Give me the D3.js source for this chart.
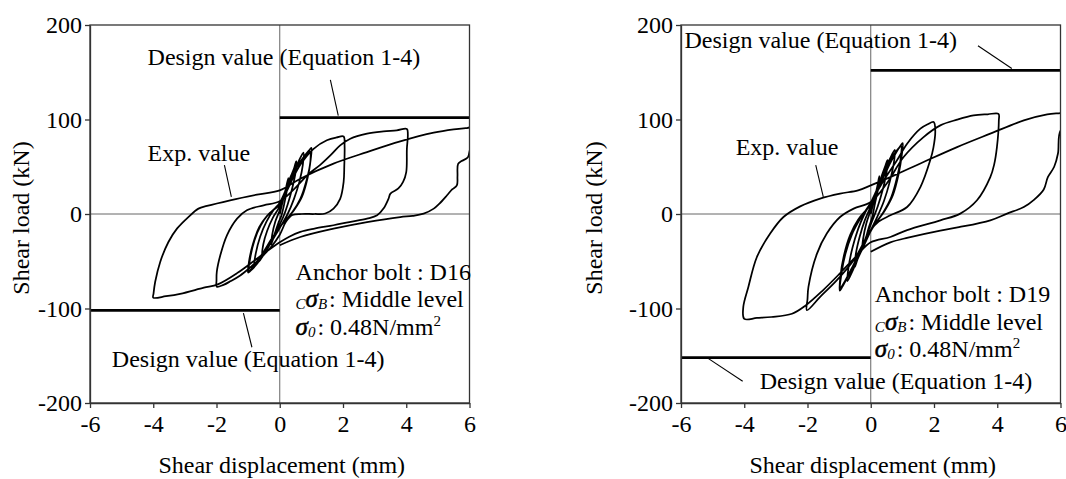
<!DOCTYPE html>
<html>
<head>
<meta charset="utf-8">
<script src="https://cdn.jsdelivr.net/npm/d3@7"></script>
<style>
  html, body { margin: 0; padding: 0; background: #fff; }
  svg { display: block; }
  svg text { font-family: "Liberation Serif", "Times New Roman", serif; }
</style>
</head>
<body>
<svg id="chart" width="1066" height="479"></svg>
<script>
const xTicks = [-6, -4, -2, 0, 2, 4, 6];
const yTicks = [-200, -100, 0, 100, 200];

// design values (kN), drawn at +/- for each specimen
const designD16 = 102;
const designD19 = 152;

// small amplitude cycles (mm, kN)
const smallD16 = [
  [0, 0], [0.1, 14], [0.2, 28], [0.27, 38], [0.24, 28], [0.15, 12], [0.05, -2], [-0.05, -10], [-0.15, -20], [-0.27, -32], [-0.24, -22], [-0.14, -8], [0, 4],
  [0.15, 20], [0.3, 36], [0.45, 48], [0.52, 56], [0.5, 44], [0.4, 28], [0.25, 10], [0.1, -4], [-0.05, -14], [-0.25, -28], [-0.42, -38], [-0.55, -44], [-0.52, -32], [-0.4, -18], [-0.22, -4], [0, 8],
  [0.2, 26], [0.4, 42], [0.6, 56], [0.75, 65], [0.73, 52], [0.62, 34], [0.45, 16], [0.25, 0], [0.05, -12], [-0.2, -26], [-0.45, -40], [-0.65, -50], [-0.8, -54], [-0.76, -42], [-0.62, -24], [-0.42, -8], [-0.2, 4], [0, 12],
  [0.25, 30], [0.5, 48], [0.75, 60], [0.92, 67], [1.0, 70], [0.98, 58], [0.88, 38], [0.7, 18], [0.45, 4], [0.2, -6], [0, -14], [-0.25, -28], [-0.5, -42], [-0.75, -54], [-0.92, -60], [-1.0, -62], [-0.97, -50], [-0.85, -32], [-0.65, -14], [-0.4, -2], [-0.15, 6], [0, 10],
  [0.25, 26], [0.5, 44], [0.75, 58], [0.95, 66], [0.97, 56], [0.85, 36], [0.65, 16], [0.4, 2], [0.15, -8], [0, -14], [-0.25, -26], [-0.55, -42], [-0.8, -54], [-0.97, -60], [-0.93, -46], [-0.8, -28], [-0.6, -12], [-0.35, 0], [0, 10]
];

// large cycles, +-2, +-4, +6 mm
const largeD16 = [
  [0.3, 30], [0.65, 52], [1.07, 69], [1.49, 78], [1.8, 81], [2.02, 82],
  [2.05, 72], [2.04, 50], [2.02, 34], [1.91, 16], [1.7, 5.7], [1.44, 0.5], [1.1, 0], [0.7, 0], [0.4, -1], [0.2, -8], [0, -22],
  [-0.3, -36], [-0.62, -47], [-0.95, -57], [-1.25, -65], [-1.55, -71], [-1.78, -75], [-1.99, -77],
  [-2.0, -70], [-1.99, -61], [-1.88, -43.7], [-1.67, -22.5], [-1.35, -4.9], [-1.04, 4], [-0.51, 9.2], [0, 13.4],
  [0.5, 28], [0.9, 42], [1.28, 52], [1.6, 62], [1.91, 72.6], [2.23, 79.7], [2.76, 85], [3.28, 87.4], [3.7, 88.5], [4.02, 90],
  [4.05, 84], [4.02, 69], [4.0, 44.4], [3.9, 34], [3.75, 27], [3.5, 21.6], [3.44, 16.3], [3.28, 5.7], [3.08, -1.4], [2.76, -4.9], [2.2, -8.5], [1.7, -11.9], [1.1, -15.5], [0.65, -19], [0.3, -24], [0, -30],
  [-0.67, -46], [-1.32, -62], [-1.96, -74.5], [-2.4, -78], [-3.15, -84.5], [-3.6, -87], [-4.0, -88.5],
  [-3.99, -84], [-3.94, -72], [-3.78, -50.7], [-3.52, -29.6], [-3.25, -15.5], [-2.89, -3.2], [-2.57, 5.7], [-2.3, 8.5], [-1.57, 14.5], [-0.72, 20.5], [0, 25],
  [0.65, 37.4], [1.7, 53.3], [2.76, 65.5], [3.81, 76.8], [4.87, 86], [5.5, 89.5], [5.92, 91], [6.3, 92], [6.35, 80], [6.2, 72],
  [6.03, 69], [5.95, 60], [5.75, 56], [5.64, 53], [5.62, 40], [5.6, 30.3], [5.45, 26], [5.29, 19.8], [5.05, 11], [4.87, 5.7], [4.55, 0.4], [4.2, -2], [3.81, -3.2], [2.76, -8.5], [1.7, -15.5], [0.65, -24.3], [0, -33]
];

const smallD19 = [
  [0, 0], [0.1, 14], [0.2, 28], [0.27, 40], [0.24, 28], [0.14, 12], [0.04, -4], [-0.06, -14], [-0.16, -26], [-0.27, -38], [-0.24, -26], [-0.14, -10], [0, 4],
  [0.15, 20], [0.3, 36], [0.45, 50], [0.53, 57], [0.5, 44], [0.38, 26], [0.22, 8], [0.06, -6], [-0.1, -20], [-0.28, -36], [-0.42, -48], [-0.5, -56], [-0.47, -42], [-0.35, -24], [-0.18, -6], [0, 8],
  [0.2, 26], [0.4, 44], [0.6, 58], [0.76, 68], [0.73, 54], [0.6, 34], [0.42, 14], [0.22, -2], [0.02, -16], [-0.2, -32], [-0.42, -48], [-0.6, -62], [-0.74, -71], [-0.7, -56], [-0.58, -36], [-0.4, -16], [-0.2, 0], [0, 12],
  [0.25, 30], [0.5, 50], [0.75, 64], [0.92, 71], [1.01, 75], [0.98, 62], [0.88, 42], [0.7, 20], [0.45, 4], [0.2, -8], [0, -18], [-0.25, -36], [-0.5, -52], [-0.75, -68], [-0.9, -77], [-0.98, -81], [-0.96, -66], [-0.85, -44], [-0.65, -22], [-0.4, -6], [-0.15, 4], [0, 10],
  [0.25, 28], [0.5, 46], [0.75, 62], [0.96, 72], [0.95, 60], [0.84, 40], [0.65, 18], [0.4, 2], [0.15, -10], [0, -18], [-0.25, -34], [-0.55, -54], [-0.8, -70], [-0.96, -78], [-0.92, -62], [-0.8, -42], [-0.6, -22], [-0.35, -6], [0, 12]
];

const largeD19 = [
  [0.4, 35], [0.83, 56.8], [1.15, 74.4], [1.57, 90.3], [1.8, 95], [1.99, 97.3],
  [2.04, 88], [1.98, 70], [1.88, 56.8], [1.57, 28.5], [1.15, 7.4], [0.62, -1.4], [0.25, -8], [0, -17],
  [-0.54, -49], [-1.07, -70], [-1.6, -87.7], [-2.02, -101.8],
  [-2.0, -90], [-1.97, -77.2], [-1.7, -41.9], [-1.39, -20.7], [-0.97, -3.2], [-0.54, 5.7], [0, 12.7],
  [0.5, 32], [1.04, 60.3], [1.67, 81.4], [2.2, 93.8], [2.73, 99.8], [3.25, 104.3], [3.7, 105.5], [4.04, 106],
  [4.05, 99], [3.99, 70.8], [3.9, 52], [3.78, 39], [3.36, 14.5], [2.83, 0.4], [2.2, -6.7], [1.15, -17], [0.62, -24.3], [0, -30],
  [-0.44, -44], [-0.98, -63], [-1.52, -81], [-2.06, -96.8], [-2.49, -105.6], [-3.14, -109], [-3.6, -110], [-4.0, -111],
  [-4.03, -98.3], [-3.87, -77.2], [-3.6, -45.5], [-3.18, -20.7], [-2.76, -3.2], [-2.23, 8.1], [-1.6, 16.3], [-0.97, 21.6], [-0.4, 25], [0, 30.3],
  [0.62, 39], [1.67, 55], [2.73, 70.8], [3.78, 85], [4.84, 99], [5.58, 105.4], [6.0, 106.8], [6.3, 108], [6.35, 95],
  [6.0, 88], [5.92, 64], [5.8, 50], [5.6, 39], [5.47, 26], [5.16, 15], [4.84, 7.4], [4.31, 0.4], [3.78, -6.7], [2.79, -14], [2.2, -17.5], [1.18, -25], [0.62, -30], [0, -40]
];

const designLabel = "Design value (Equation 1-4)";
const expLabel = "Exp. value";
const xTitle = "Shear displacement (mm)";
const yTitle = "Shear load (kN)";

const panels = [
  {
    id: "d16", left: 90, yTitleX: 29, bolt: "D16", design: designD16,
    curve: smallD16.concat(largeD16),
    // [label, x, y] text start and baseline in data units
    notes: [[designLabel, -4.18, 158], [designLabel, -5.31, -162], [expLabel, -4.18, 55.8]],
    leaders: [[1.6, 142, 1.85, 104], [-1.15, -105, -0.88, -141], [-1.75, 51.6, -1.53, 18]],
    spec: [0.5, -69.6]
  },
  {
    id: "d19", left: 681, yTitleX: 602, bolt: "D19", design: designD19,
    curve: smallD19.concat(largeD19),
    notes: [[designLabel, -5.89, 176], [designLabel, -3.51, -185], [expLabel, -4.27, 62.9]],
    leaders: [[3.39, 178, 4.46, 154], [-5.13, -153, -4.05, -177], [-1.74, 51.6, -1.5, 18]],
    spec: [0.13, -93.3]
  }
];

const FS = 24;
const svg = d3.select("#chart");

function drawPanel(p) {
  const x = d3.scaleLinear().domain([-6, 6]).range([p.left, p.left + 379.5]);
  const y = d3.scaleLinear().domain([-200, 200]).range([403, 25]);
  const g = svg.append("g");

  svg.append("clipPath").attr("id", "clip-" + p.id)
    .append("rect")
    .attr("x", x(-6)).attr("y", y(200))
    .attr("width", x(6) - x(-6)).attr("height", y(-200) - y(200));

  // zero lines
  g.append("line")
    .attr("x1", x(0)).attr("x2", x(0)).attr("y1", y(200)).attr("y2", y(-200))
    .attr("stroke", "#666").attr("stroke-width", 1);
  g.append("line")
    .attr("x1", x(-6)).attr("x2", x(6)).attr("y1", y(0)).attr("y2", y(0))
    .attr("stroke", "#666").attr("stroke-width", 1);

  // design value lines
  g.append("line")
    .attr("x1", x(0)).attr("x2", x(6)).attr("y1", y(p.design)).attr("y2", y(p.design))
    .attr("stroke", "#000").attr("stroke-width", 2.6);
  g.append("line")
    .attr("x1", x(-6)).attr("x2", x(0)).attr("y1", y(-p.design)).attr("y2", y(-p.design))
    .attr("stroke", "#000").attr("stroke-width", 2.6);

  const line = d3.line()
    .x(d => x(d[0])).y(d => y(d[1]))
    .curve(d3.curveCatmullRom.alpha(0.5));
  g.append("path")
    .attr("d", line(p.curve))
    .attr("clip-path", "url(#clip-" + p.id + ")")
    .attr("fill", "none").attr("stroke", "#000")
    .attr("stroke-width", 1.75).attr("stroke-linejoin", "round");

  // frame
  g.append("rect")
    .attr("x", x(-6)).attr("y", y(200))
    .attr("width", x(6) - x(-6)).attr("height", y(-200) - y(200))
    .attr("fill", "none").attr("stroke", "#333").attr("stroke-width", 1.3);

  const xAxis = g.append("g")
    .attr("transform", `translate(0,${y(-200)})`)
    .call(d3.axisBottom(x).tickValues(xTicks).tickFormat(d => String(d))
      .tickSize(5).tickSizeOuter(0).tickPadding(7));
  const yAxis = g.append("g")
    .attr("transform", `translate(${x(-6)},0)`)
    .call(d3.axisLeft(y).tickValues(yTicks).tickFormat(d => String(d))
      .tickSize(5).tickSizeOuter(0).tickPadding(3));
  [xAxis, yAxis].forEach(a => {
    a.attr("font-family", null).attr("font-size", FS);
    a.selectAll("path, line").attr("stroke", "#333").attr("stroke-width", 1.3);
    a.selectAll("text").attr("fill", "#000");
  });

  g.append("text")
    .attr("x", (x(-6) + x(6)) / 2 + 2).attr("y", 473)
    .attr("text-anchor", "middle").attr("font-size", FS).attr("fill", "#000")
    .text(xTitle);
  g.append("text")
    .attr("transform", `translate(${p.yTitleX},218) rotate(-90)`)
    .attr("text-anchor", "middle").attr("font-size", FS).attr("fill", "#000")
    .text(yTitle);

  // annotations
  p.notes.forEach(([s, nx, ny]) => {
    g.append("text").attr("x", x(nx)).attr("y", y(ny))
      .attr("font-size", FS).attr("fill", "#000").text(s);
  });
  p.leaders.forEach(([x1, y1, x2, y2]) => {
    g.append("line")
      .attr("x1", x(x1)).attr("y1", y(y1)).attr("x2", x(x2)).attr("y2", y(y2))
      .attr("stroke", "#000").attr("stroke-width", 1.1);
  });

  // specimen description
  const sx = x(p.spec[0]);
  const sy = y(p.spec[1]);
  g.append("text").attr("x", sx).attr("y", sy)
    .attr("font-size", FS).attr("fill", "#000")
    .text("Anchor bolt : " + p.bolt);

  const t2 = g.append("text").attr("x", sx).attr("y", sy + 27.5)
    .attr("font-size", FS).attr("fill", "#000");
  t2.append("tspan").attr("font-style", "italic").attr("font-size", 15).attr("dy", 2).text("C");
  t2.append("tspan").attr("font-style", "italic").attr("font-size", 25)
    .attr("stroke", "#000").attr("stroke-width", 0.5).attr("dy", -2).text("σ");
  t2.append("tspan").attr("font-style", "italic").attr("font-size", 15).attr("dy", 2).text("B");
  t2.append("tspan").attr("dy", -2).attr("dx", 2).text(": Middle level");

  const t3 = g.append("text").attr("x", sx).attr("y", sy + 55)
    .attr("font-size", FS).attr("fill", "#000");
  t3.append("tspan").attr("font-style", "italic").attr("font-size", 25)
    .attr("stroke", "#000").attr("stroke-width", 0.5).text("σ");
  t3.append("tspan").attr("font-style", "italic").attr("font-size", 15).attr("dy", 2).text("0");
  t3.append("tspan").attr("dy", -2).attr("dx", 2).text(": 0.48N/mm");
  t3.append("tspan").attr("font-size", 15).attr("dy", -9).text("2");
}

panels.forEach(drawPanel);
</script>
</body>
</html>
